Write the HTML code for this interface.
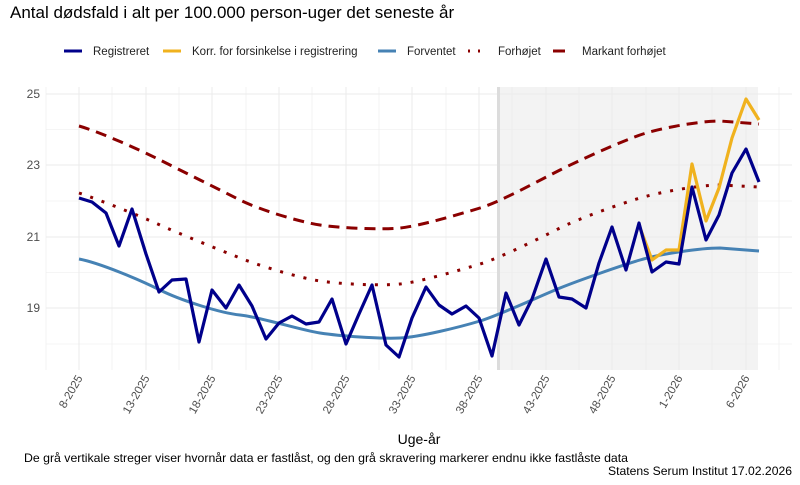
<!DOCTYPE html>
<html><head><meta charset="utf-8"><style>
body{margin:0;background:#fff;width:800px;height:480px;overflow:hidden;font-family:"Liberation Sans",sans-serif}
</style></head><body>
<svg width="800" height="480" xmlns="http://www.w3.org/2000/svg" font-family="Liberation Sans, sans-serif">
<rect width="800" height="480" fill="#fff"/>
<text x="10" y="18" font-size="17" fill="#000">Antal dødsfald i alt per 100.000 person-uger det seneste år</text>
<!-- legend -->
<g font-size="11.5" fill="#222">
<line x1="64" y1="51" x2="82" y2="51" stroke="#00008B" stroke-width="3"/><text x="93" y="55">Registreret</text>
<line x1="163" y1="51" x2="181" y2="51" stroke="#F0B21E" stroke-width="3"/><text x="192" y="55">Korr. for forsinkelse i registrering</text>
<line x1="378" y1="51" x2="396" y2="51" stroke="#4682B4" stroke-width="3"/><text x="407" y="55">Forventet</text>
<line x1="468" y1="51" x2="486" y2="51" stroke="#8B0000" stroke-width="3" stroke-dasharray="2,8"/><text x="498" y="55">Forhøjet</text>
<line x1="553" y1="51" x2="565" y2="51" stroke="#8B0000" stroke-width="3"/><text x="582" y="55">Markant forhøjet</text>
</g>
<!-- shade -->
<rect x="498" y="87" width="260" height="283" fill="#f3f3f3"/>
<!-- grid -->
<g stroke="#ebebeb" stroke-width="1">
<line x1="46" y1="94" x2="792" y2="94"/><line x1="46" y1="165" x2="792" y2="165"/><line x1="46" y1="237" x2="792" y2="237"/><line x1="46" y1="308" x2="792" y2="308"/>
<line x1="46" y1="129.5" x2="792" y2="129.5" stroke-width="0.6"/><line x1="46" y1="201" x2="792" y2="201" stroke-width="0.6"/><line x1="46" y1="272.5" x2="792" y2="272.5" stroke-width="0.6"/><line x1="46" y1="344" x2="792" y2="344" stroke-width="0.6"/>
<line x1="79" y1="87" x2="79" y2="370"/><line x1="146" y1="87" x2="146" y2="370"/><line x1="212" y1="87" x2="212" y2="370"/><line x1="279" y1="87" x2="279" y2="370"/><line x1="346" y1="87" x2="346" y2="370"/><line x1="412" y1="87" x2="412" y2="370"/><line x1="479" y1="87" x2="479" y2="370"/><line x1="546" y1="87" x2="546" y2="370"/><line x1="612" y1="87" x2="612" y2="370"/><line x1="679" y1="87" x2="679" y2="370"/><line x1="746" y1="87" x2="746" y2="370"/>
<g stroke-width="0.6"><line x1="46" y1="87" x2="46" y2="370"/><line x1="112" y1="87" x2="112" y2="370"/><line x1="179" y1="87" x2="179" y2="370"/><line x1="246" y1="87" x2="246" y2="370"/><line x1="312" y1="87" x2="312" y2="370"/><line x1="379" y1="87" x2="379" y2="370"/><line x1="446" y1="87" x2="446" y2="370"/><line x1="512" y1="87" x2="512" y2="370"/><line x1="579" y1="87" x2="579" y2="370"/><line x1="646" y1="87" x2="646" y2="370"/><line x1="712" y1="87" x2="712" y2="370"/><line x1="779" y1="87" x2="779" y2="370"/></g>
</g>
<line x1="498.5" y1="87" x2="498.5" y2="370" stroke="#dcdcdc" stroke-width="3"/>
<!-- y labels -->
<g font-size="12" fill="#4d4d4d" text-anchor="end"><text x="40" y="98">25</text><text x="40" y="169">23</text><text x="40" y="241">21</text><text x="40" y="312">19</text></g>
<!-- series -->
<path d="M79,126 C100,132 140,150 160,160 S220,190 240,200 S300,222 320,225 S380,230 400,228 S460,214 480,208 S540,180 560,170 S620,142 640,135 S700,121 720,121 L759,124" fill="none" stroke="#8B0000" stroke-width="3" stroke-dasharray="11,7"/>
<path d="M79,193 C100,200 140,216 160,225 S220,250 240,258 S300,278 320,281 S380,286 400,284 S460,270 480,264 S540,238 560,228 S620,204 640,198 S700,185 720,185 L759,187" fill="none" stroke="#8B0000" stroke-width="3" stroke-dasharray="3,9"/>
<path d="M79,259 C100,263 140,280 160,290 S220,313 240,315 S300,330 320,333 S380,339 400,338 S460,327 480,321 S540,296 560,288 S620,266 640,260 S700,248 720,248 L759,251" fill="none" stroke="#4682B4" stroke-width="3"/>
<polyline points="639,225 652,260 666,250 679,250 692,164 706,221 719,188 732,138 746,99 759,120" fill="none" stroke="#F0B21E" stroke-width="3.2" stroke-linejoin="round"/>
<polyline points="79,198 92,202 106,213 119,246 132,209 146,254 159,292 172,280 186,279 199,342 212,290 226,308 239,285 252,306 266,339 279,323 292,316 306,324 319,322 332,299 346,344 359,314 372,285 386,345 399,357 412,318 426,287 439,305 452,314 466,306 479,318 492,356 506,293 519,325 532,299 546,259 559,297 572,299 586,308 599,263 612,227 626,270 639,223 652,272 666,262 679,264 692,187 706,240 719,215 732,173 746,149 759,182" fill="none" stroke="#00008B" stroke-width="3.2" stroke-linejoin="round"/>
<!-- x labels -->
<g font-size="11.5" fill="#4d4d4d" text-anchor="end">
<text transform="translate(83,378) rotate(-60)">8-2025</text>
<text transform="translate(150,378) rotate(-60)">13-2025</text>
<text transform="translate(216,378) rotate(-60)">18-2025</text>
<text transform="translate(283,378) rotate(-60)">23-2025</text>
<text transform="translate(350,378) rotate(-60)">28-2025</text>
<text transform="translate(416,378) rotate(-60)">33-2025</text>
<text transform="translate(483,378) rotate(-60)">38-2025</text>
<text transform="translate(550,378) rotate(-60)">43-2025</text>
<text transform="translate(616,378) rotate(-60)">48-2025</text>
<text transform="translate(683,378) rotate(-60)">1-2026</text>
<text transform="translate(750,378) rotate(-60)">6-2026</text>
</g>
<text x="419" y="444" font-size="14" text-anchor="middle" fill="#000">Uge-år</text>
<text x="24" y="462" font-size="12" fill="#000" textLength="604" lengthAdjust="spacingAndGlyphs">De grå vertikale streger viser hvornår data er fastlåst, og den grå skravering markerer endnu ikke fastlåste data</text>
<text x="608" y="475" font-size="12" fill="#000" textLength="184" lengthAdjust="spacingAndGlyphs">Statens Serum Institut  17.02.2026</text>
</svg>
</body></html>
